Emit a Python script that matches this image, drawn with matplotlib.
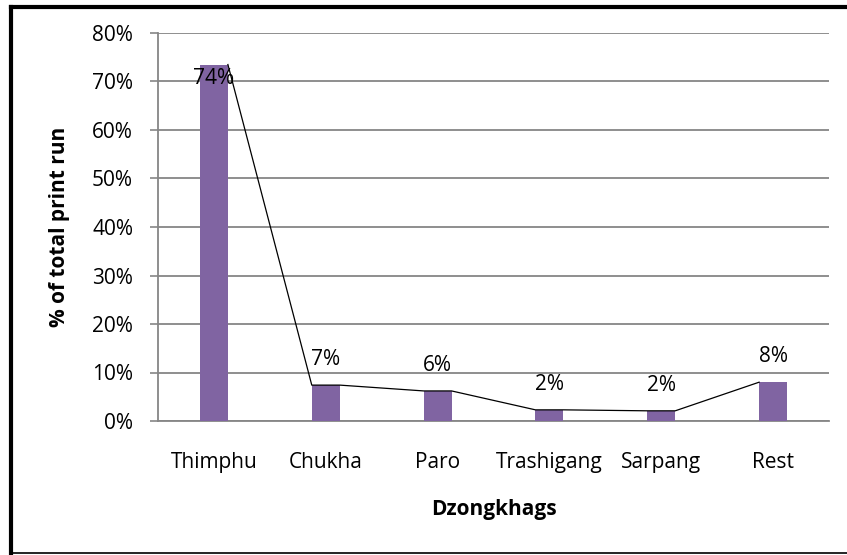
import matplotlib
matplotlib.use('Agg')
import matplotlib.pyplot as plt
from matplotlib.lines import Line2D
import numpy as np

# data
dzongkhags = ['Thimphu', 'Chukha', 'Paro', 'Trashigang', 'Sarpang', 'Rest']
share_pct = [73.5, 7.4, 6.2, 2.3, 2.1, 8.0]
labels = ['74%', '7%', '6%', '2%', '2%', '8%']
yticks = [0, 10, 20, 30, 40, 50, 60, 70, 80]

BAR = '#8064A2'
GRID = '#868686'
FS = 15
plt.rcParams['font.family'] = ['Open Sans', 'DejaVu Sans']

fig = plt.figure(figsize=(8.47, 5.55), dpi=100)
fig.patch.set_facecolor('white')
ax = fig.add_axes([158/847, 1 - 421/555, (829 - 158)/847, (421 - 33)/555])

x = np.arange(len(dzongkhags))
w = 0.25
ax.bar(x, share_pct, width=w, color=BAR, zorder=3)

# connecting line, running along bar tops edge to edge
lx, ly = [], []
for xi, v in zip(x, share_pct):
    lx += [xi - w/2, xi + w/2]
    ly += [v, v]
ax.plot(lx[1:-1], ly[1:-1], color='black', lw=0.9, zorder=4)

# value labels (kept inside the plot area)
for xi, v, t in zip(x, share_pct, labels):
    yy = min(v + 5.3, 70.7)
    ax.text(xi, yy, t, ha='center', va='center', fontsize=FS, color='black', zorder=5)

ax.set_xlim(-0.5, len(dzongkhags) - 0.5)
ax.set_ylim(0, 80)
ax.set_yticks(yticks)
ax.set_yticklabels([f'{t}%' for t in yticks])
ax.set_xticks(x)
ax.set_xticklabels(dzongkhags)
ax.yaxis.grid(True, color=GRID, lw=1.3, zorder=0)
ax.set_axisbelow(True)
for s in ['top', 'right']:
    ax.spines[s].set_visible(False)
for s in ['left', 'bottom']:
    ax.spines[s].set_color(GRID)
    ax.spines[s].set_linewidth(1.3)
ax.tick_params(axis='y', length=6, width=1.2, color=GRID, pad=12, labelsize=FS)
ax.tick_params(axis='x', length=0, pad=22, labelsize=FS)

ax.text(-(158 - 59)/671, 0.5, '% of total print run', transform=ax.transAxes,
        rotation=90, ha='center', va='center', fontsize=FS, fontweight='bold')
ax.text(0.5, -(510 - 421)/388, 'Dzongkhags', transform=ax.transAxes,
        ha='center', va='center', fontsize=FS, fontweight='bold')

# frame around the picture (cropped on the right)
fig.add_artist(Line2D([10.5/847, 1], [1 - 7/555, 1 - 7/555], transform=fig.transFigure,
                      color='black', lw=3))
fig.add_artist(Line2D([10.5/847, 10.5/847], [1 - 7/555, 1 - 553/555], transform=fig.transFigure,
                      color='black', lw=3))
fig.add_artist(Line2D([10.5/847, 1], [1 - 553.3/555, 1 - 553.3/555], transform=fig.transFigure,
                      color='black', lw=1.2))

fig.savefig('out.png', dpi=100, facecolor='white')
